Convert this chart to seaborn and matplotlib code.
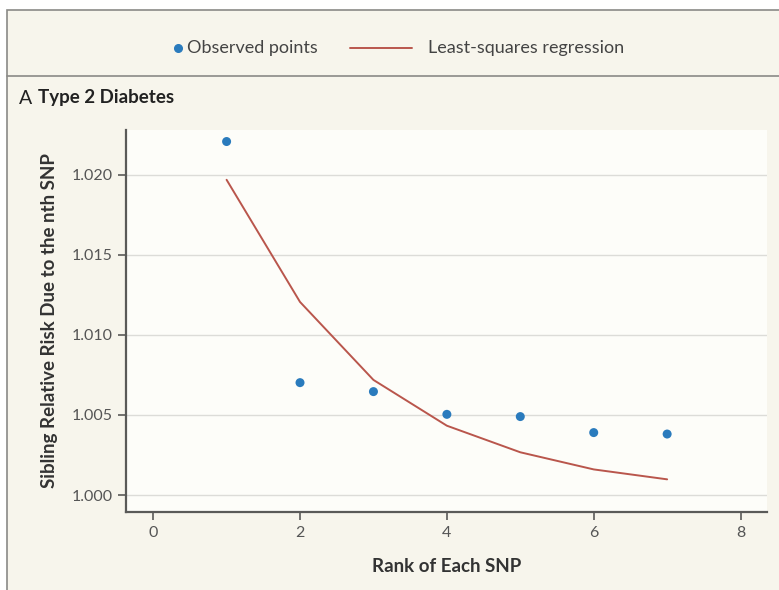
import numpy as np
import pandas as pd
import matplotlib
matplotlib.use('Agg')
import matplotlib.pyplot as plt
from matplotlib.patches import Rectangle
from matplotlib.lines import Line2D
import seaborn as sns

# data
snp_rank = [1, 2, 3, 4, 5, 6, 7]
observed = [1.02208, 1.00702, 1.00646, 1.00504, 1.00490, 1.00390, 1.00381]
fitted = [1.01969, 1.01206, 1.00719, 1.00433, 1.00267, 1.00160, 1.00098]
x_ticks = [0, 2, 4, 6, 8]
y_ticks = [1.000, 1.005, 1.010, 1.015, 1.020]

CREAM = '#f7f5ec'; PANEL = '#fdfdf9'; FRAME = '#8a8a86'
BLUE = '#2a7bbd'; RED = '#b9564c'; GRID = '#dcdcd8'; AXC = '#5a5a58'; TXT = '#333333'

sns.set_theme(style='white')
plt.rcParams['font.family'] = ['Lato', 'DejaVu Sans']

df = pd.DataFrame({'rank': snp_rank, 'obs': observed, 'fit': fitted})

W, H = 779, 590
fig = plt.figure(figsize=(W / 100, H / 100), dpi=100)
fig.patch.set_facecolor('white')

def fx(px): return px / W
def fy(py): return (H - py) / H

# outer cream frame, open at right/bottom
fig.add_artist(Rectangle((fx(7), -0.1), 1.2, fy(10) + 0.1, transform=fig.transFigure,
                         facecolor=CREAM, edgecolor=FRAME, lw=1.2, zorder=0))
fig.add_artist(Line2D([fx(7), 1], [fy(76)] * 2, transform=fig.transFigure,
                      color=FRAME, lw=1.2))

ax = fig.add_axes([fx(126), fy(512), (767 - 126) / W, (512 - 130) / H])
ax.set_facecolor(PANEL)

sns.lineplot(data=df, x='rank', y='fit', color=RED, lw=1.4, ax=ax, zorder=3)
sns.scatterplot(data=df, x='rank', y='obs', color=BLUE, s=42, edgecolor='none', ax=ax, zorder=4)

ax.set_xlim(-0.37, 8.36)
ax.set_ylim(0.99894, 1.0228)
ax.set_xticks(x_ticks)
ax.set_yticks(y_ticks)
ax.set_yticklabels([f'{v:.3f}' for v in y_ticks])
for v in y_ticks:
    ax.axhline(v, color=GRID, lw=1, zorder=1)

for sp in ['top', 'right']:
    ax.spines[sp].set_visible(False)
for sp in ['bottom', 'left']:
    ax.spines[sp].set_color(AXC)
    ax.spines[sp].set_linewidth(1.6)
ax.tick_params(axis='both', direction='out', length=6, width=1.2, color=AXC,
               labelcolor='#555555', labelsize=11.5, left=True, bottom=True)
ax.tick_params(axis='x', pad=4)

ax.set_xlabel('Rank of Each SNP', fontsize=13.5, fontweight='bold', color=TXT, labelpad=13)
ax.set_ylabel('Sibling Relative Risk Due to the nth SNP', fontsize=13.5, fontweight='bold',
              color=TXT, labelpad=10)

# panel title
fig.text(fx(19), fy(98), 'A', fontsize=14, color='#222222', va='center', ha='left')
fig.text(fx(38), fy(98), 'Type 2 Diabetes', fontsize=13.5, fontweight='bold',
         color='#222222', va='center', ha='left')

# legend, laid out by hand like the original
fig.add_artist(Line2D([fx(178)], [fy(48)], transform=fig.transFigure, marker='o',
                      ls='none', color=BLUE, markersize=5.5))
fig.text(fx(187), fy(48), 'Observed points', fontsize=13, color='#444444', va='center', ha='left')
fig.add_artist(Line2D([fx(350), fx(412)], [fy(48)] * 2, transform=fig.transFigure,
                      color=RED, lw=1.4))
fig.text(fx(428), fy(48), 'Least-squares regression', fontsize=13, color='#444444',
         va='center', ha='left')

fig.savefig('out.png', dpi=100, facecolor='white')
